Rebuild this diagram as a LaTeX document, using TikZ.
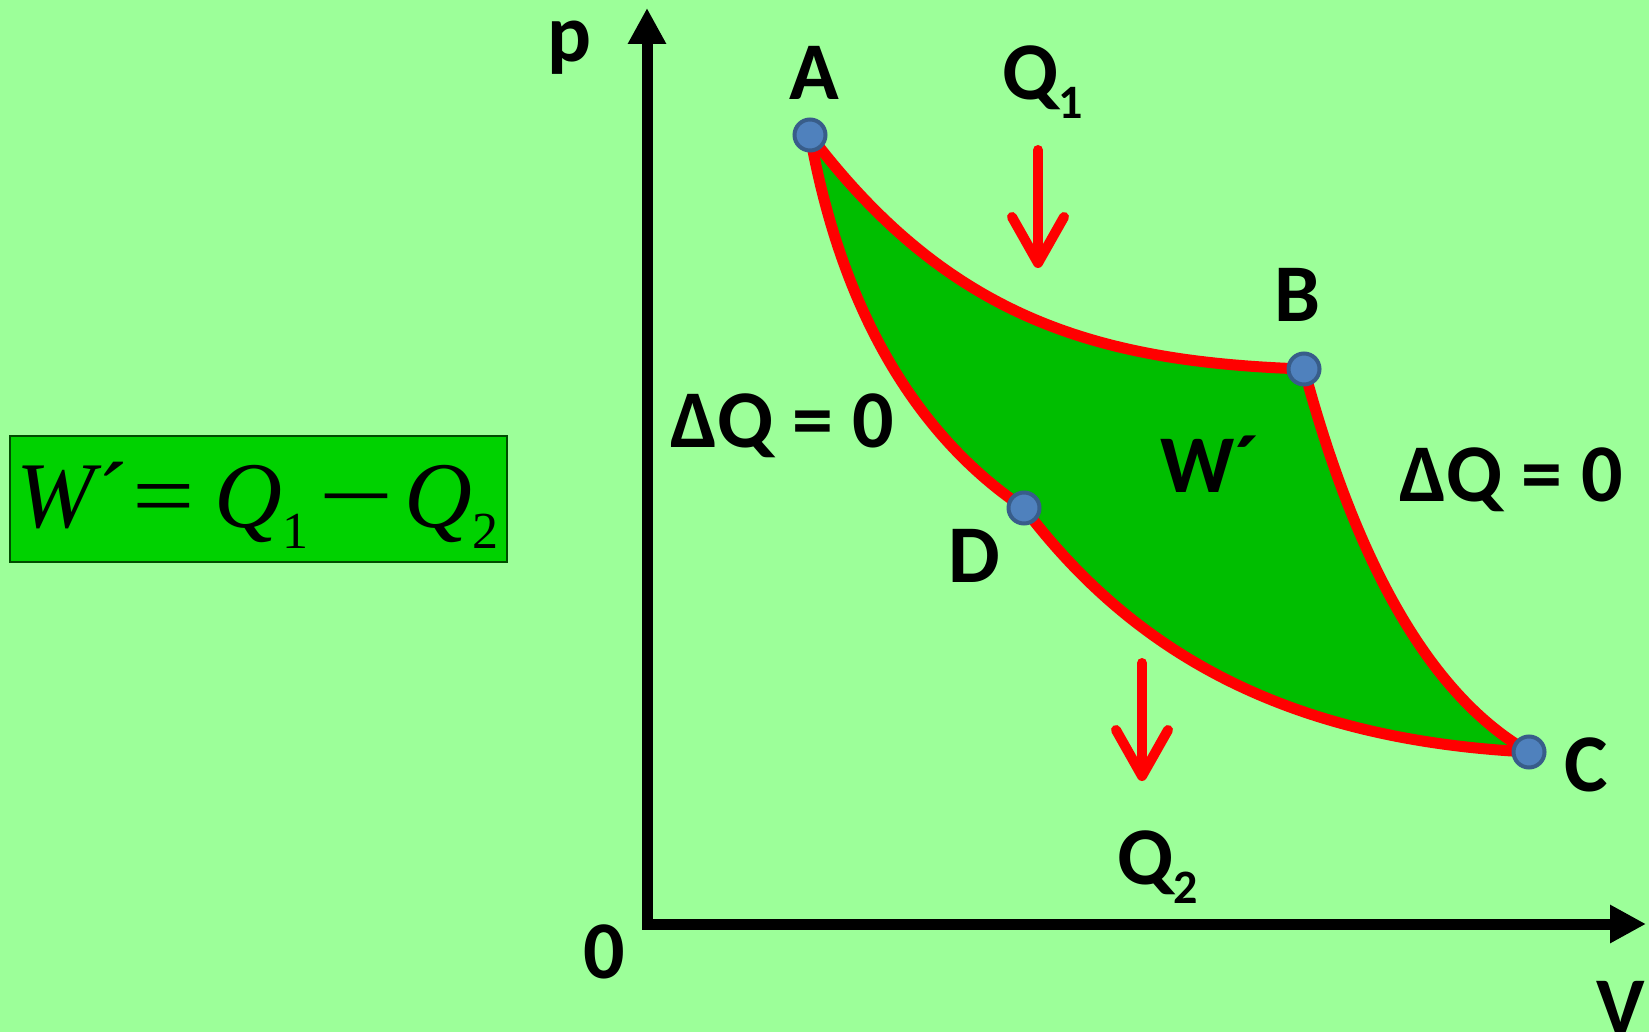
\documentclass[tikz,border=0pt]{standalone}
\usepackage{fontspec}
\setmainfont{Carlito}
\newfontfamily\timesfont{Liberation Serif}
\usetikzlibrary{arrows.meta}

\definecolor{bggreen}{RGB}{156,255,153}
\definecolor{workgreen}{RGB}{0,190,0}
\definecolor{boxgreen}{RGB}{0,210,0}
\definecolor{dotblue}{RGB}{79,129,189}
\definecolor{dotrim}{RGB}{56,93,138}

% lowered subscript for the bold labels
\newcommand{\lowsub}[1]{\raisebox{-19pt}{\fontsize{48}{48}\selectfont #1}}
% lowered subscript for the boxed formula
\newcommand{\lawsub}[1]{\raisebox{-21pt}{\fontsize{52}{52}\selectfont #1}}

\begin{document}
\begin{tikzpicture}[x=1pt, y=-1pt,
  axis/.style={line width=11pt, line join=miter,
    {Triangle[length=36pt,width=36pt]}-{Triangle[length=36pt,width=36pt]}},
  process/.style={draw=red, line width=11pt, line join=round},
  heat/.style={red, line width=10pt, line cap=round,
    -{Straight Barb[length=46pt,width=52pt,round]}},
  dot/.style={circle, fill=dotblue, draw=dotrim, line width=4pt,
    minimum size=31pt, inner sep=0pt},
  lbl/.style={font=\bfseries\fontsize{82}{82}\selectfont, inner sep=0pt, anchor=base}]
  % background and page size
  \fill[bggreen] (0,0) rectangle (1649,1032);
  \useasboundingbox (0,0) rectangle (1649,1032);

  % axes
  \coordinate (ptop) at (647,8);
  \coordinate (O) at (647,924);
  \coordinate (vend) at (1646,924);
  \draw[axis] (ptop) -- (O) -- (vend);

  % states of the cycle
  \coordinate (A) at (810,135);
  \coordinate (B) at (1304,369);
  \coordinate (C) at (1529,752);
  \coordinate (D) at (1024,508);

  % A->B, B->C, C->D, D->A
  \path[process, fill=workgreen]
    (A) .. controls (950,320) and (1100,362) .. (B)
        .. controls (1350,540) and (1420,690) .. (C)
        .. controls (1290,740) and (1135,655) .. (D)
        .. controls (930,445) and (845,330) .. (A) -- cycle;

  \node[dot] (ptA) at (A) {};
  \node[dot] (ptB) at (B) {};
  \node[dot] (ptC) at (C) {};
  \node[dot] (ptD) at (D) {};

  % heat in and out
  \coordinate (q1top) at (1038,150);
  \coordinate (q1tip) at (1038,268);
  \coordinate (q2top) at (1142,663);
  \coordinate (q2tip) at (1142,781);
  \draw[heat] (q1top) -- (q1tip);
  \draw[heat] (q2top) -- (q2tip);

  % labels
  \node[lbl] (labp) at (569,62) {p};
  \node[lbl] (lab0) at (604,978) {0};
  \node[lbl] (labV) at (1621,1034) {V};
  \node[lbl] (labA) at (814,100) {A};
  \node[lbl] (labB) at (1297,321) {B};
  \node[lbl] (labC) at (1586,791) {C};
  \node[lbl] (labD) at (974,582) {D};
  \node[lbl, anchor=base west] (labQ1) at (1002,100) {Q\lowsub{1}};
  \node[lbl, anchor=base west] (labQ2) at (1117,884) {Q\lowsub{2}};
  \node[lbl] (labW) at (1210,492) {W´};
  \node[lbl] (adiabL) at (782,447) {ΔQ = 0};
  \node[lbl] (adiabR) at (1511,501) {ΔQ = 0};

  % first law for the cycle
  \node[draw=black!70!green, line width=1.2pt, fill=boxgreen,
    minimum width=497pt, minimum height=126pt, inner sep=0pt] (law) at (258.5,499) {};
  \node[font=\timesfont\fontsize{94}{94}\selectfont, inner sep=0pt, anchor=base west] (lawtext) at (16,527)
    {\textit{W}\kern-4pt´\kern4pt\scalebox{1.18}[1]{=}\kern19pt\textit{Q}\lawsub{1}\kern10pt\scalebox{1.43}[1]{−}\kern10pt\textit{Q}\lawsub{2}};
\end{tikzpicture}
\end{document}
